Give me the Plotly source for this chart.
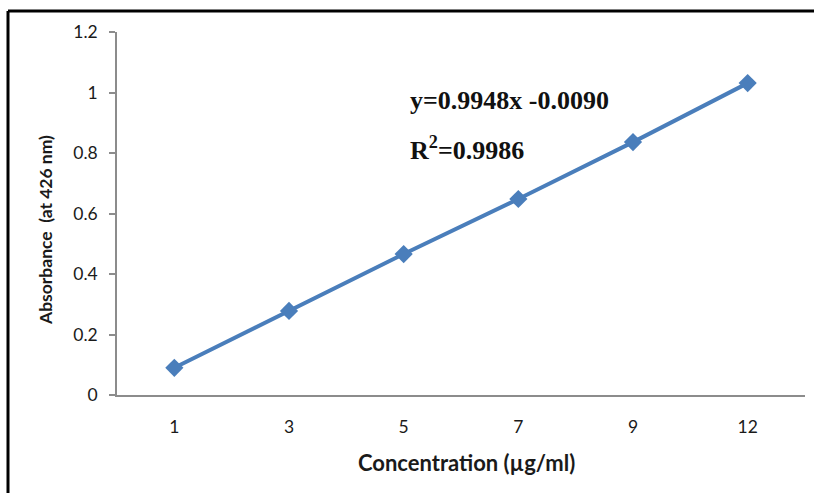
import plotly.graph_objects as go

concentration = ["1", "3", "5", "7", "9", "12"]
absorbance = [0.090, 0.278, 0.466, 0.648, 0.836, 1.031]
y_ticks = [0, 0.2, 0.4, 0.6, 0.8, 1.0, 1.2]
y_tick_labels = ["0", "0.2", "0.4", "0.6", "0.8", "1", "1.2"]
equation_text = "y=0.9948x -0.0090"
r2_text = "R<sup>2</sup>=0.9986"
x_title = "Concentration (µg/ml)"
y_title = "Absorbance  (at 426 nm)"

W, H = 814, 493
L, R, T, B = 117, 9, 32, 98
pw, ph = W - L - R, H - T - B

def px(x):
    return (x - L) / pw

def py(y):
    return (H - B - y) / ph

fig = go.Figure()
fig.add_trace(go.Scatter(
    x=concentration, y=absorbance, mode="lines+markers",
    line=dict(color="#4A7EBB", width=4),
    marker=dict(symbol="diamond", size=14, color="#4A7EBB"),
    showlegend=False, cliponaxis=False,
))

fig.update_layout(
    width=W, height=H,
    margin=dict(l=L, r=R, t=T, b=B, autoexpand=False),
    paper_bgcolor="white", plot_bgcolor="white",
    font=dict(family="Lato, Open Sans, sans-serif", color="#1a1a1a"),
    xaxis=dict(
        type="category", range=[-0.5, 5.5], showgrid=False, showline=True,
        linecolor="#8c8c8c", linewidth=1.5, ticks="", tickfont=dict(size=17.5),
        zeroline=False, ticklabelstandoff=15, automargin=False,
    ),
    yaxis=dict(
        range=[0, 1.2], tickvals=y_ticks, ticktext=y_tick_labels,
        showgrid=False, showline=True, linecolor="#8c8c8c", linewidth=1.5,
        ticks="outside", ticklen=6, tickcolor="#8c8c8c", tickwidth=1.5,
        tickfont=dict(size=17.5), zeroline=False, ticklabelstandoff=8,
        automargin=False,
    ),
)

# axis titles
fig.add_annotation(text=f"<b>{x_title}</b>", xref="paper", yref="paper",
                   x=0.5 * (px(347) + px(585)), y=py(462), xanchor="center",
                   yanchor="middle", showarrow=False,
                   font=dict(size=22, color="#1a1a1a"))
fig.add_annotation(text=f"<b>{y_title}</b>", xref="paper", yref="paper", x=px(46),
                   y=py(230), xanchor="center", yanchor="middle", showarrow=False,
                   textangle=-90, font=dict(size=17.5, color="#1a1a1a"))

# outer frame (top and left borders)
fig.add_shape(type="line", xref="paper", yref="paper", x0=px(8), x1=px(900),
              y0=py(11), y1=py(11), line=dict(color="black", width=3))
fig.add_shape(type="line", xref="paper", yref="paper", x0=px(8), x1=px(8),
              y0=py(11), y1=py(600), line=dict(color="black", width=3))

fig.add_annotation(text=f"<b>{equation_text}</b>", xref="paper", yref="paper",
                   x=px(408), y=py(100), xanchor="left", yanchor="middle",
                   showarrow=False, font=dict(family="Liberation Serif, serif", size=26, color="#111"))
fig.add_annotation(text=f"<b>{r2_text}</b>", xref="paper", yref="paper",
                   x=px(408), y=py(148), xanchor="left", yanchor="middle",
                   showarrow=False, font=dict(family="Liberation Serif, serif", size=26, color="#111"))

fig.write_html("out.html", config={"displayModeBar": False},
               post_script="document.body.style.margin='0';")
